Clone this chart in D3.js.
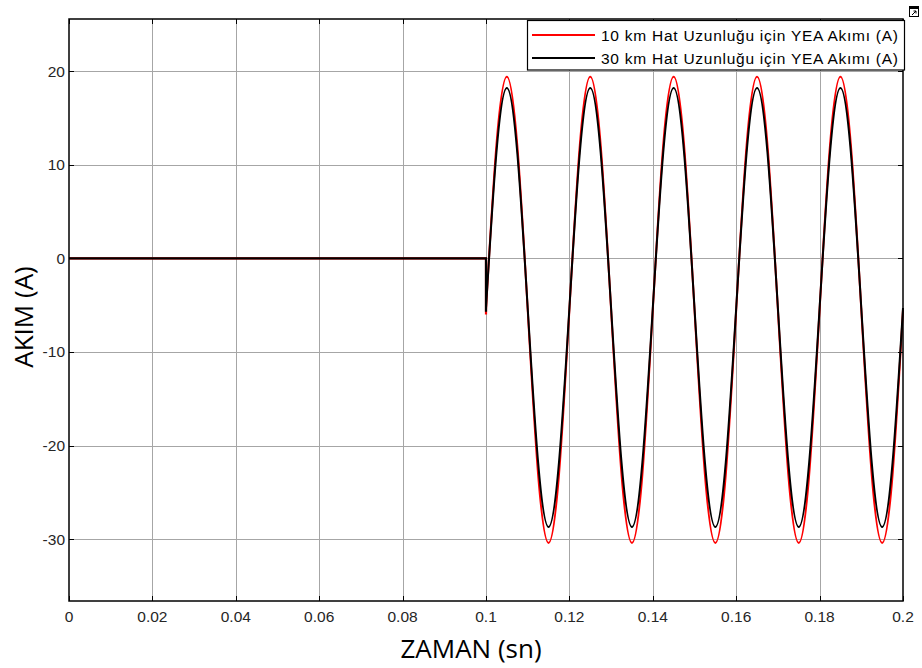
<!DOCTYPE html>
<html>
<head>
<meta charset="utf-8">
<script src="https://cdn.jsdelivr.net/npm/d3@7"></script>
<style>
  body { margin: 0; background: #fff; }
  .tick-lbl { font-family: "Liberation Sans", Arial, sans-serif; font-size: 15.5px; fill: #262626; }
  .ax-title { font-family: "Open Sans", sans-serif; font-size: 26px; fill: #000; }
  .leg-txt { font-family: "Liberation Sans", Arial, sans-serif; font-size: 15.5px; fill: #000; }
</style>
</head>
<body>
<svg width="922" height="668"></svg>
<script>
// tick values
const xTicks = [0, 0.02, 0.04, 0.06, 0.08, 0.1, 0.12, 0.14, 0.16, 0.18, 0.2]
const xTickLabels = ["0", "0.02", "0.04", "0.06", "0.08", "0.1", "0.12", "0.14", "0.16", "0.18", "0.2"]
const yTicks = [20, 10, 0, -10, -20, -30]

// before the fault: flat, then the drop at t = 0.1
const preTimes = [0, 0.1, 0.1]
const preRed = [0, 0, -6.0]
const preBlack = [0, 0, -5.7]

// after the fault (read every 0.0025 s)
const oscTimes = [0.1, 0.1025, 0.105, 0.1075, 0.11, 0.1125, 0.115, 0.1175,
  0.12, 0.1225, 0.125, 0.1275, 0.13, 0.1325, 0.135, 0.1375,
  0.14, 0.1425, 0.145, 0.1475, 0.15, 0.1525, 0.155, 0.1575,
  0.16, 0.1625, 0.165, 0.1675, 0.17, 0.1725, 0.175, 0.1775,
  0.18, 0.1825, 0.185, 0.1875, 0.19, 0.1925, 0.195, 0.1975, 0.2]
const oscRed = [-5.5, 12.1, 19.4, 12.1, -5.5, -23.1, -30.4, -23.1,
  -5.5, 12.1, 19.4, 12.1, -5.5, -23.1, -30.4, -23.1,
  -5.5, 12.1, 19.4, 12.1, -5.5, -23.1, -30.4, -23.1,
  -5.5, 12.1, 19.4, 12.1, -5.5, -23.1, -30.4, -23.1,
  -5.5, 12.1, 19.4, 12.1, -5.5, -23.1, -30.4, -23.1, -5.5]
const oscBlack = [-5.3, 11.3, 18.2, 11.3, -5.3, -21.8, -28.7, -21.8,
  -5.3, 11.3, 18.2, 11.3, -5.3, -21.8, -28.7, -21.8,
  -5.3, 11.3, 18.2, 11.3, -5.3, -21.8, -28.7, -21.8,
  -5.3, 11.3, 18.2, 11.3, -5.3, -21.8, -28.7, -21.8,
  -5.3, 11.3, 18.2, 11.3, -5.3, -21.8, -28.7, -21.8, -5.3]

const seriesNames = ["10 km Hat Uzunluğu için YEA Akımı (A)", "30 km Hat Uzunluğu için YEA Akımı (A)"]
const seriesColors = ["#ff0000", "#000000"]

const plot = { left: 69, right: 903, top: 19, bottom: 601 }

const svg = d3.select("svg")
svg.append("rect").attr("width", 922).attr("height", 668).attr("fill", "#fff")

const x = d3.scaleLinear().domain([0, 0.2]).range([plot.left, plot.right])
const y = d3.scaleLinear().domain([-36.61, 25.57]).range([plot.bottom, plot.top])

// grid
const grid = svg.append("g")
grid.selectAll(".gx").data(xTicks.slice(1, -1)).enter().append("line")
  .attr("x1", d => Math.round(x(d)) + 0.5).attr("x2", d => Math.round(x(d)) + 0.5)
  .attr("y1", plot.top).attr("y2", plot.bottom)
  .attr("stroke", "#a6a6a6").attr("stroke-width", 1)
grid.selectAll(".gy").data(yTicks).enter().append("line")
  .attr("y1", d => Math.round(y(d)) + 0.5).attr("y2", d => Math.round(y(d)) + 0.5)
  .attr("x1", plot.left).attr("x2", plot.right)
  .attr("stroke", "#a6a6a6").attr("stroke-width", 1)

// data lines
const line = d3.line().x(d => x(d[0])).y(d => y(d[1]))
const lineNat = d3.line().x(d => x(d[0])).y(d => y(d[1])).curve(d3.curveNatural)
const series = [
  { pre: preRed, osc: oscRed, color: seriesColors[0] },
  { pre: preBlack, osc: oscBlack, color: seriesColors[1] }
]
const dataG = svg.append("g")
series.forEach(s => {
  dataG.append("path")
    .datum(preTimes.map((t, i) => [t, s.pre[i]]))
    .attr("d", line).attr("fill", "none")
    .attr("stroke", s.color).attr("stroke-width", 2.2)
  dataG.append("path")
    .datum(oscTimes.map((t, i) => [t, s.osc[i]]))
    .attr("d", lineNat).attr("fill", "none")
    .attr("stroke", s.color).attr("stroke-width", 2)
})

// axes box and inward ticks
const axG = svg.append("g")
const tl = 5
xTicks.forEach(d => {
  const px = Math.round(x(d)) + 0.5
  axG.append("line").attr("x1", px).attr("x2", px).attr("y1", plot.bottom).attr("y2", plot.bottom - tl).attr("stroke", "#000")
  axG.append("line").attr("x1", px).attr("x2", px).attr("y1", plot.top).attr("y2", plot.top + tl).attr("stroke", "#000")
})
yTicks.forEach(d => {
  const py = Math.round(y(d)) + 0.5
  axG.append("line").attr("y1", py).attr("y2", py).attr("x1", plot.left).attr("x2", plot.left + tl).attr("stroke", "#000")
  axG.append("line").attr("y1", py).attr("y2", py).attr("x1", plot.right).attr("x2", plot.right - tl).attr("stroke", "#000")
})
axG.append("rect")
  .attr("x", plot.left).attr("y", plot.top)
  .attr("width", plot.right - plot.left).attr("height", plot.bottom - plot.top)
  .attr("fill", "none").attr("stroke", "#000").attr("stroke-width", 1.5)

// tick labels
svg.append("g").selectAll("text").data(xTicks).enter().append("text")
  .attr("class", "tick-lbl")
  .attr("x", d => x(d)).attr("y", 622)
  .attr("text-anchor", "middle")
  .text((d, i) => xTickLabels[i])
svg.append("g").selectAll("text").data(yTicks).enter().append("text")
  .attr("class", "tick-lbl")
  .attr("x", 65).attr("y", d => y(d) + 5.5)
  .attr("text-anchor", "end")
  .text(d => d)

// axis titles
svg.append("text").attr("class", "ax-title")
  .attr("x", 471).attr("y", 658).attr("text-anchor", "middle")
  .text("ZAMAN (sn)")
svg.append("text").attr("class", "ax-title")
  .attr("transform", "translate(33,317) rotate(-90)").attr("text-anchor", "middle")
  .text("AKIM (A)")

// legend
const leg = svg.append("g")
leg.append("rect")
  .attr("x", 527.5).attr("y", 20.5).attr("width", 377).attr("height", 49.5)
  .attr("fill", "#fff").attr("stroke", "#000").attr("stroke-width", 1.2)
seriesNames.forEach((name, i) => {
  const ly = 35 + i * 23
  leg.append("line").attr("x1", 532).attr("x2", 595).attr("y1", ly).attr("y2", ly)
    .attr("stroke", seriesColors[i]).attr("stroke-width", 2)
  leg.append("text").attr("class", "leg-txt")
    .attr("x", 601).attr("y", ly + 5.5)
    .attr("textLength", 297).attr("lengthAdjust", "spacing")
    .text(name)
})

// small undock icon at top right
const ic = svg.append("g")
ic.append("rect").attr("x", 909.5).attr("y", 6.5).attr("width", 9).attr("height", 10)
  .attr("fill", "#fff").attr("stroke", "#000").attr("stroke-width", 1)
ic.append("line").attr("x1", 909.5).attr("x2", 918.5).attr("y1", 8).attr("y2", 8)
  .attr("stroke", "#000").attr("stroke-width", 2)
ic.append("path").attr("d", "M912,15 L916,11 M913.5,11 L916,11 L916,13.5")
  .attr("fill", "none").attr("stroke", "#000").attr("stroke-width", 1)
</script>
</body>
</html>
